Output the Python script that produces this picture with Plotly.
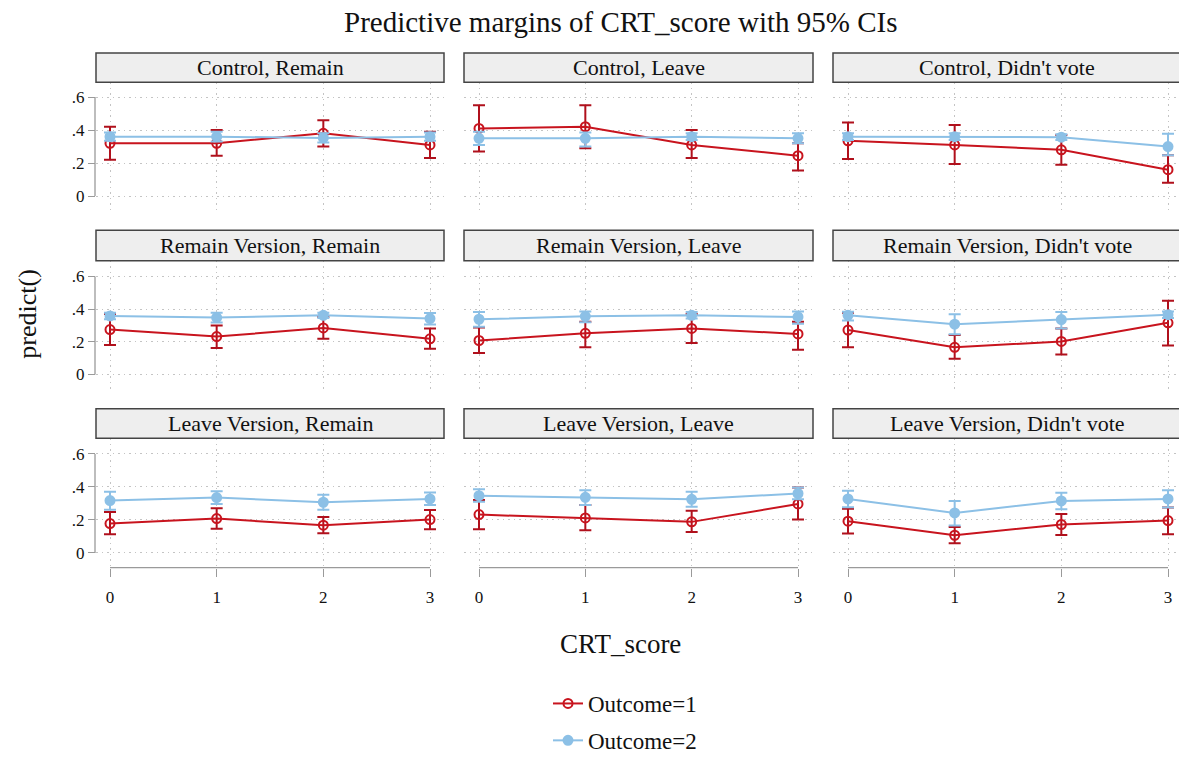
import plotly.graph_objects as go

# ---------------- data ----------------
panels = ["Control, Remain", "Control, Leave", "Control, Didn't vote",
          "Remain Version, Remain", "Remain Version, Leave", "Remain Version, Didn't vote",
          "Leave Version, Remain", "Leave Version, Leave", "Leave Version, Didn't vote"]
crt_score = [0, 1, 2, 3]
y_tickvals = [0, 0.2, 0.4, 0.6]
y_ticktext = ["0", ".2", ".4", ".6"]
series_names = ["Outcome=1", "Outcome=2"]

out1_mean = [
    [0.32, 0.32, 0.38, 0.31],
    [0.41, 0.42, 0.31, 0.245],
    [0.335, 0.31, 0.28, 0.16],
    [0.275, 0.232, 0.285, 0.218],
    [0.208, 0.252, 0.282, 0.248],
    [0.272, 0.166, 0.202, 0.316],
    [0.178, 0.208, 0.168, 0.202],
    [0.232, 0.212, 0.188, 0.297],
    [0.192, 0.107, 0.172, 0.196],
]
out1_lo = [
    [0.22, 0.244, 0.30, 0.23],
    [0.27, 0.29, 0.23, 0.155],
    [0.224, 0.195, 0.19, 0.08],
    [0.18, 0.162, 0.218, 0.158],
    [0.132, 0.166, 0.192, 0.152],
    [0.166, 0.096, 0.122, 0.178],
    [0.113, 0.147, 0.119, 0.143],
    [0.143, 0.137, 0.127, 0.202],
    [0.117, 0.058, 0.109, 0.113],
]
out1_hi = [
    [0.42, 0.40, 0.46, 0.39],
    [0.55, 0.55, 0.40, 0.32],
    [0.446, 0.43, 0.37, 0.248],
    [0.37, 0.30, 0.352, 0.282],
    [0.288, 0.322, 0.37, 0.322],
    [0.378, 0.242, 0.282, 0.452],
    [0.248, 0.27, 0.218, 0.26],
    [0.32, 0.291, 0.255, 0.396],
    [0.267, 0.157, 0.236, 0.275],
]
out2_mean = [
    [0.36, 0.36, 0.352, 0.36],
    [0.35, 0.35, 0.36, 0.35],
    [0.36, 0.36, 0.357, 0.30],
    [0.358, 0.348, 0.362, 0.342],
    [0.338, 0.356, 0.362, 0.352],
    [0.362, 0.308, 0.336, 0.366],
    [0.317, 0.335, 0.307, 0.327],
    [0.347, 0.337, 0.325, 0.36],
    [0.327, 0.242, 0.315, 0.327],
]
out2_lo = [
    [0.335, 0.33, 0.325, 0.335],
    [0.31, 0.30, 0.34, 0.32],
    [0.34, 0.34, 0.34, 0.248],
    [0.338, 0.318, 0.345, 0.306],
    [0.292, 0.32, 0.342, 0.31],
    [0.33, 0.246, 0.282, 0.345],
    [0.261, 0.297, 0.261, 0.291],
    [0.31, 0.29, 0.28, 0.325],
    [0.277, 0.166, 0.265, 0.275],
]
out2_hi = [
    [0.385, 0.39, 0.38, 0.385],
    [0.39, 0.385, 0.38, 0.38],
    [0.38, 0.38, 0.375, 0.377],
    [0.378, 0.378, 0.378, 0.376],
    [0.382, 0.386, 0.382, 0.386],
    [0.384, 0.368, 0.382, 0.386],
    [0.37, 0.373, 0.352, 0.366],
    [0.386, 0.38, 0.37, 0.396],
    [0.376, 0.315, 0.364, 0.379],
]

# ---------------- layout constants (pixels) ----------------
W, H = 1179, 762
FONT = "Liberation Serif"
RED, RED_CI = "#c8141e", "#b0101c"
BLUE, BLUE_CI = "#8cc0e6", "#8cc0e6"
GRID = "#c4c4c4"
GRID_DASH = "1.5px,4px"

col_px = [(96, 444), (464, 813), (833, 1182)]
col_data_px = [(110, 430), (479, 798), (848, 1168)]   # pixel of x=0 and x=3
row_plot_px = [(84, 215), (266, 397), (447, 579)]
row_data_px = [(200, 99), (382, 282), (564, 463)]      # pixel of y=0 and y=0.6
row_strip_px = [(54, 84), (235, 266), (417, 447)]

def px(x):
    return min(x / W, 1.0)

def py(y):
    return 1 - y / H

fig = go.Figure()
layout = dict(
    width=W, height=H,
    margin=dict(l=0, r=0, t=0, b=0),
    paper_bgcolor="white", plot_bgcolor="white",
    font=dict(family=FONT, color="#111111"),
    showlegend=True,
)
shapes = []
annotations = []

series = [
    (series_names[0], out1_mean, out1_lo, out1_hi, RED, RED_CI, "circle-open"),
    (series_names[1], out2_mean, out2_lo, out2_hi, BLUE, BLUE_CI, "circle"),
]

for i, title in enumerate(panels):
    r, c = divmod(i, 3)
    sfx = "" if i == 0 else str(i + 1)
    xa, ya = "xaxis" + sfx, "yaxis" + sfx
    xr, yr = "x" + sfx, "y" + sfx

    # x axis
    x0p, x3p = col_data_px[c]
    u = (x3p - x0p) / 3
    dl, dr = col_px[c]
    dr_vis = min(dr, W)
    xrange = [(dl - x0p) / u, (dr_vis - x0p) / u]
    bottom = r == 2
    layout[xa] = dict(
        domain=[px(dl), px(dr_vis)], range=xrange, anchor=yr,
        tickvals=crt_score, ticktext=[str(v) for v in crt_score],
        showticklabels=bottom, ticks="outside" if bottom else "",
        ticklen=8, tickcolor="#9a9a9a", tickwidth=1.2,
        ticklabelstandoff=6,
        tickfont=dict(size=17, family=FONT, color="#111"),
        showgrid=True, gridcolor=GRID, griddash=GRID_DASH, gridwidth=1,
        zeroline=False, showline=False, fixedrange=True,
    )
    # y axis
    y0p, y6p = row_data_px[r]
    v = (y0p - y6p) / 0.6
    tp, bp = row_plot_px[r]
    yrange = [(y0p - bp) / v, (y0p - tp) / v]
    left = c == 0
    layout[ya] = dict(
        domain=[py(bp), py(tp)], range=yrange, anchor=xr,
        tickvals=y_tickvals, ticktext=y_ticktext,
        showticklabels=left, ticks="outside" if left else "",
        ticklen=7, tickcolor="#9a9a9a", tickwidth=1.2,
        tickfont=dict(size=17, family=FONT, color="#111"),
        showgrid=True, gridcolor=GRID, griddash=GRID_DASH, gridwidth=1,
        zeroline=False, showline=False, fixedrange=True,
    )

    # partial axis lines (Stata style)
    if left:
        shapes.append(dict(type="line", xref="paper", yref=yr,
                           x0=px(dl - 1), x1=px(dl - 1), y0=0, y1=0.6,
                           line=dict(color="#9a9a9a", width=1.3)))
    if bottom:
        shapes.append(dict(type="line", xref=xr, yref="paper",
                           x0=0, x1=3, y0=py(bp), y1=py(bp),
                           line=dict(color="#9a9a9a", width=1.3)))

    # strip
    s0, s1 = row_strip_px[r]
    shapes.append(dict(type="rect", xref="paper", yref="paper",
                       x0=px(dl), x1=dr / W, y0=py(s1), y1=py(s0),
                       fillcolor="#eeeeee", line=dict(color="#444444", width=1.5)))
    annotations.append(dict(text=title, xref="paper", yref="paper",
                            x=(dl + dr) / 2 / W, y=py((s0 + s1) / 2),
                            showarrow=False, xanchor="center", yanchor="middle",
                            font=dict(size=22, family=FONT, color="#111")))

    for name, m, lo, hi, col, cicol, sym in series:
        fig.add_trace(go.Scatter(
            x=crt_score, y=m[i], xaxis=xr, yaxis=yr,
            mode="lines+markers", name=name, legendgroup=name,
            showlegend=(i == 0), cliponaxis=False,
            line=dict(color=col, width=2),
            marker=dict(symbol=sym, size=9, color=col,
                        line=dict(width=2, color=col)),
            error_y=dict(type="data", symmetric=False,
                         array=[h - mm for h, mm in zip(hi[i], m[i])],
                         arrayminus=[mm - l for l, mm in zip(lo[i], m[i])],
                         color=cicol, thickness=2, width=6),
            hoverinfo="skip",
        ))

annotations.append(dict(text="Predictive margins of CRT_score with 95% CIs",
                        xref="paper", yref="paper", x=px(620), y=py(22),
                        showarrow=False, xanchor="center", yanchor="middle",
                        font=dict(size=29, family=FONT, color="#111")))
annotations.append(dict(text="CRT_score", xref="paper", yref="paper",
                        x=px(620), y=py(657), showarrow=False,
                        xanchor="center", yanchor="middle",
                        font=dict(size=27, family=FONT, color="#111")))
annotations.append(dict(text="predict()", xref="paper", yref="paper",
                        x=px(28), y=py(320), showarrow=False, textangle=-90,
                        xanchor="center", yanchor="middle",
                        font=dict(size=26, family=FONT, color="#111")))

layout["shapes"] = shapes
layout["annotations"] = annotations
layout["legend"] = dict(x=px(548), y=py(696), xanchor="left", yanchor="top",
                        bgcolor="rgba(0,0,0,0)", tracegroupgap=4,
                        font=dict(size=23, family=FONT, color="#111"))
fig.update_layout(**layout)

fig.write_html(
    "out.html",
    config={"displayModeBar": False},
    post_script="document.body.style.margin='0';document.body.style.overflow='hidden';",
)
